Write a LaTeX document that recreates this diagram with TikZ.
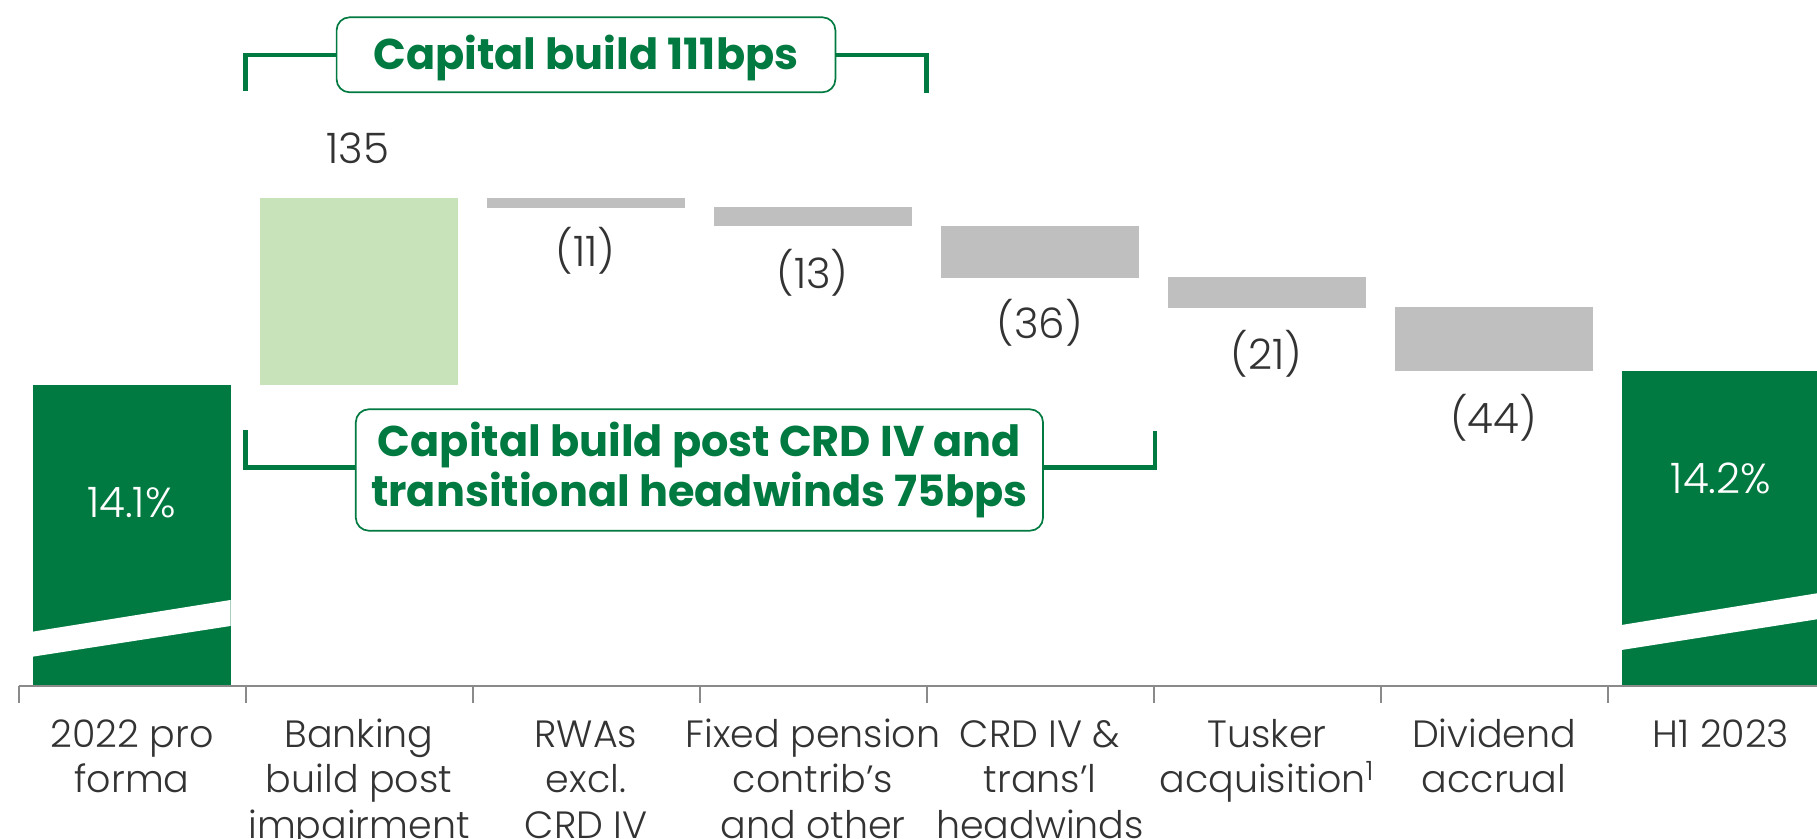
\documentclass[tikz,border=0pt]{standalone}
\usepackage{fontspec}
\setmainfont{Poppins}
\newfontfamily\poplight{Poppins Light}
\definecolor{dkgreen}{HTML}{007A40}
\definecolor{ltgreen}{HTML}{C8E3B9}
\definecolor{bargray}{HTML}{BFBFBF}
\definecolor{axisgray}{HTML}{8A8A8A}
\definecolor{txtgray}{HTML}{333333}
\newcommand\mycatfont{\poplight\fontsize{19pt}{22.75pt}\selectfont}
\newcommand\myvalfont{\poplight\fontsize{21pt}{24pt}\selectfont}
\newcommand\myboxfont{\fontsize{21.5pt}{25pt}\selectfont\bfseries}
\newcommand\catlines[1]{\begin{tabular}[t]{@{}c@{}}#1\end{tabular}}
\tikzset{
  cat/.style={anchor=base, inner sep=0pt, text=txtgray, font=\mycatfont},
  val/.style={anchor=base, inner sep=0pt, text=txtgray, font=\myvalfont},
  pct/.style={anchor=base, inner sep=0pt, text=white, font=\myvalfont},
  callout/.style={draw=dkgreen, line width=0.85pt, rounded corners=6.5pt, fill=white,
    text=dkgreen, font=\myboxfont, inner sep=0pt, align=center},
  bracket/.style={draw=dkgreen, line width=2.2pt},
  axisline/.style={draw=axisgray, line width=1.35pt},
  tickline/.style={draw=axisgray, line width=1pt},
}
\begin{document}
\begin{tikzpicture}[x=0.5pt,y=-0.5pt]
\useasboundingbox (0,0) rectangle (1817,839);
% bars
\fill[dkgreen] (32.5,385) rectangle (230.5,686);
\fill[white] (32.5,631.7) -- (230.5,600) -- (230.5,626) -- (32.5,656.7) -- cycle;
\fill[ltgreen] (259.5,198) rectangle (457.5,385);
\fill[bargray] (486.5,198) rectangle (684.5,207.7);
\fill[bargray] (713.5,207) rectangle (911.5,225.7);
\fill[bargray] (940.5,226) rectangle (1138.5,277.7);
\fill[bargray] (1167.5,277) rectangle (1365.5,307.7);
\fill[bargray] (1394.5,307) rectangle (1592.5,370.7);
\fill[dkgreen] (1621.5,370.7) rectangle (1817,686);
\fill[white] (1621.5,625) -- (1817,593.3) -- (1817,619.3) -- (1621.5,650) -- cycle;
% axis
\draw[axisline] (18.5,686) -- (1817,686);
\foreach \i in {0,...,7} \draw[tickline] (18.5+227*\i,686) -- (18.5+227*\i,703);
% value labels
\node[val] (v135) at (358,163.3) {135};
\node[val] (v11) at (585.5,266.7) {(11)};
\node[val] (v13) at (812.5,288.3) {(13)};
\node[val] (v36) at (1039.5,338.3) {(36)};
\node[val] (v21) at (1266.5,369.3) {(21)};
\node[val] (v44) at (1493.5,433.3) {(44)};
\node[pct] (p1) at (131.5,517.3) {14.1\%};
\node[pct] (p2) at (1721,493.3) {14.2\%};
% category labels
\node[cat] (c1) at (132,747.5) {\catlines{2022 pro\\forma}};
\node[cat] (c2) at (359,747.5) {\catlines{Banking\\build post\\impairment}};
\node[cat] (c3) at (586,747.5) {\catlines{RWAs\\excl.\\CRD IV}};
\node[cat] (c4) at (813,747.5) {\catlines{Fixed pension\\contrib’s\\and other}};
\node[cat] (c5) at (1040,747.5) {\catlines{CRD IV \&\\trans’l\\headwinds}};
\node[cat] (c6) at (1267,747.5) {\catlines{Tusker\\acquisition\textsuperscript{1}}};
\node[cat] (c7) at (1494,747.5) {\catlines{Dividend\\accrual}};
\node[cat] (c8) at (1721,747.5) {\catlines{H1 2023}};
% callouts
\node[callout, minimum width=249.4pt, minimum height=37.5pt, text height=15.2pt, text depth=0pt] (box1) at (586,54.8) {Capital build 111bps};
\node[callout, minimum width=343.6pt, minimum height=60.7pt] (box2) at (699.4,470) {Capital build post CRD IV and\\transitional headwinds 75bps};
% brackets
\coordinate (t1) at (245.5,91);
\coordinate (t2) at (926.5,93.5);
\draw[bracket] (t1) |- (box1.west);
\draw[bracket] (box1.east) -| (t2);
\coordinate (b1) at (245.5,430);
\coordinate (b2) at (1155,431.5);
\draw[bracket] (b1) |- ([yshift=1.25pt]box2.west);
\draw[bracket] ([yshift=1.25pt]box2.east) -| (b2);
\end{tikzpicture}
\end{document}
